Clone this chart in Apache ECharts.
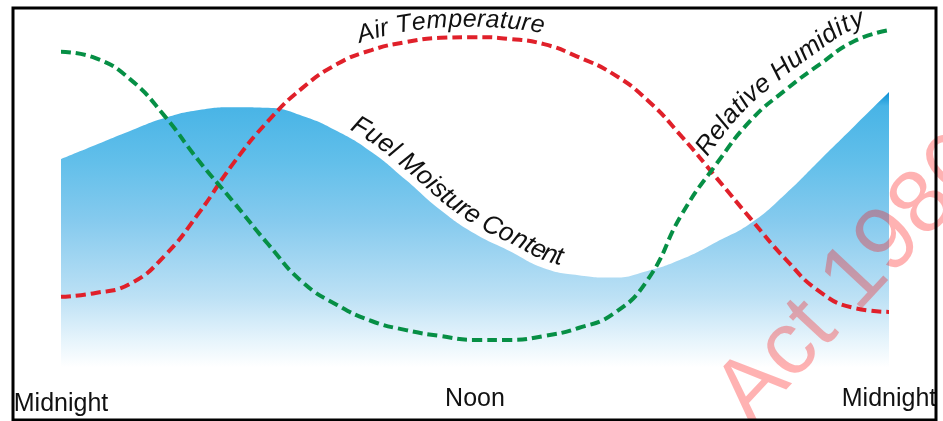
<!DOCTYPE html>
<html>
<head>
<meta charset="utf-8">
<title>Daily cycle of fuel moisture, air temperature and humidity</title>
<script src="https://cdn.jsdelivr.net/npm/echarts@6/dist/echarts.min.js"></script>
<style>
  html, body { margin: 0; padding: 0; background: #fff; }
  #chart { width: 943px; height: 421px; }
</style>
</head>
<body>
<div id="chart"></div>
<script>
// Hours from midnight to midnight
const hours = [0, 1, 2, 3, 4, 5, 6, 7, 8, 9, 10, 11, 12, 13, 14, 15, 16, 17, 18, 19, 20, 21, 22, 23, 24];
const tickLabels = ['Midnight', 'Noon', 'Midnight'];

// Relative levels (0-100)
const fuelMoisture = [60.3, 64.3, 68.3, 72.0, 74.3, 75.1, 74.9, 72.6, 68.3, 62.3, 54.3, 45.7, 38.9, 34.0, 29.1, 27.1, 26.4, 28.3, 31.7, 36.6, 42.0, 50.3, 60.0, 69.7, 79.4];
const airTemperature = [20.9, 22.0, 24.6, 32.6, 44.9, 59.1, 71.1, 80.6, 87.4, 91.4, 93.7, 94.9, 95.1, 94.6, 93.1, 89.4, 84.6, 77.1, 66.6, 54.9, 43.1, 31.7, 22.3, 17.7, 16.6];
const relativeHumidity = [90.9, 89.1, 83.1, 72.6, 59.7, 48.0, 36.0, 25.1, 18.6, 14.0, 11.4, 9.7, 8.6, 8.6, 9.7, 12.0, 16.0, 25.7, 44.6, 58.9, 71.4, 80.0, 87.4, 94.0, 97.1];

const curveLabels = ['Fuel Moisture Content', 'Air Temperature', 'Relative Humidity'];
const watermarkText = 'Act 1986';

const FONT = '"Liberation Sans", Arial, Helvetica, sans-serif';
const chart = echarts.init(document.getElementById('chart'));

function pairs(values) {
    return hours.map((h, i) => [h, values[i]]);
}

// Base chart
chart.setOption({
    animation: false,
    grid: { left: 61, right: 54, top: 20, bottom: 51 },
    xAxis: {
        type: 'value',
        min: 0, max: 24, interval: 12,
        axisLine: { show: false },
        axisTick: { show: false },
        splitLine: { show: false },
        axisLabel: {
            margin: 17,
            fontSize: 25,
            color: '#111',
            fontFamily: FONT,
            formatter: v => v === 0 ? '{low|' + tickLabels[0] + '}' : tickLabels[v / 12],
            rich: {
                low: { fontSize: 25, color: '#111', fontFamily: FONT, padding: [5, 0, 0, 0] }
            }
        }
    },
    yAxis: { type: 'value', min: 0, max: 100, show: false },
    series: [
        {
            name: curveLabels[0],
            type: 'line',
            data: pairs(fuelMoisture),
            smooth: 0.5,
            showSymbol: false,
            lineStyle: { width: 0 },
            areaStyle: {
                opacity: 1,
                color: new echarts.graphic.LinearGradient(0, 0, 0, 1, [
                    { offset: 0, color: '#0a8ed4' },
                    { offset: 0.05, color: '#48b4e6' },
                    { offset: 0.25, color: '#62bfea' },
                    { offset: 0.46, color: '#85caee' },
                    { offset: 0.74, color: '#bde1f5' },
                    { offset: 0.9, color: '#e8f5fc' },
                    { offset: 0.99, color: '#ffffff' }
                ])
            },
            z: 1
        },
        {
            name: curveLabels[1],
            type: 'line',
            data: pairs(airTemperature),
            smooth: 0.5,
            showSymbol: false,
            lineStyle: { color: '#e0202a', width: 4, type: [10, 5] },
            z: 3
        },
        {
            name: curveLabels[2],
            type: 'line',
            data: pairs(relativeHumidity),
            smooth: 0.5,
            showSymbol: false,
            lineStyle: { color: '#068f45', width: 4, type: [10, 5] },
            z: 3
        }
    ]
});

// --- text that follows a curve ---
const measureCtx = document.createElement('canvas').getContext('2d');

function curvePath(values) {
    const pts = hours.map((h, i) => chart.convertToPixel({ gridIndex: 0 }, [h, values[i]]));
    const dense = [];
    for (let i = 0; i < pts.length - 1; i++) {
        const p0 = pts[Math.max(i - 1, 0)], p1 = pts[i], p2 = pts[i + 1], p3 = pts[Math.min(i + 2, pts.length - 1)];
        for (let k = 0; k < 20; k++) {
            const t = k / 20, t2 = t * t, t3 = t2 * t;
            dense.push([0, 1].map(j => 0.5 * (2 * p1[j] + (p2[j] - p0[j]) * t +
                (2 * p0[j] - 5 * p1[j] + 4 * p2[j] - p3[j]) * t2 +
                (3 * p1[j] - p0[j] - 3 * p2[j] + p3[j]) * t3)));
        }
    }
    dense.push(pts[pts.length - 1]);
    const len = [0];
    for (let i = 1; i < dense.length; i++) {
        len.push(len[i - 1] + Math.hypot(dense[i][0] - dense[i - 1][0], dense[i][1] - dense[i - 1][1]));
    }
    return { pts: dense, len: len };
}

function pointAt(path, s) {
    const len = path.len;
    let j = 1;
    while (j < len.length - 1 && len[j] < s) j++;
    const a = path.pts[j - 1], b = path.pts[j];
    const f = (s - len[j - 1]) / ((len[j] - len[j - 1]) || 1);
    return [a[0] + (b[0] - a[0]) * f, a[1] + (b[1] - a[1]) * f];
}

function textAlong(text, values, startX, baseline, fontSize) {
    const path = curvePath(values);
    const font = 'italic ' + fontSize + 'px ' + FONT;
    measureCtx.font = font;
    let s = path.len[path.pts.findIndex(p => p[0] >= startX)];
    const els = [];
    for (const ch of text) {
        const w = measureCtx.measureText(ch).width;
        const mid = s + w / 2;
        const p = pointAt(path, mid);
        const a = pointAt(path, mid - 8), b = pointAt(path, mid + 8);
        const tx = b[0] - a[0], ty = b[1] - a[1], tl = Math.hypot(tx, ty) || 1;
        const d = baseline + fontSize * 0.33;
        els.push({
            type: 'text',
            x: p[0] + (ty / tl) * d,
            y: p[1] - (tx / tl) * d,
            rotation: -Math.atan2(ty, tx),
            z: 50,
            style: { text: ch, font: font, fill: '#111', align: 'center', verticalAlign: 'middle' }
        });
        s += w;
    }
    return els;
}

const graphics = []
    .concat(textAlong(curveLabels[0], fuelMoisture, 344, 6, 26))
    .concat(textAlong(curveLabels[1], airTemperature, 362, 9, 25))
    .concat(textAlong(curveLabels[2], relativeHumidity, 716, 10, 26));

// Watermark
graphics.push({
    type: 'text',
    x: 733, y: 410,
    rotation: 0.82,
    z: 40,
    style: { text: watermarkText, font: '90px ' + FONT, fill: 'rgba(255,0,0,0.3)', align: 'left', verticalAlign: 'middle' }
});

// Frame
graphics.push({
    type: 'rect',
    z: 100,
    shape: { x: 13, y: 8, width: 923, height: 412 },
    style: { fill: 'none', stroke: '#000', lineWidth: 3 }
});

chart.setOption({ graphic: { elements: graphics } });

window.addEventListener('resize', () => chart.resize());
</script>
</body>
</html>
